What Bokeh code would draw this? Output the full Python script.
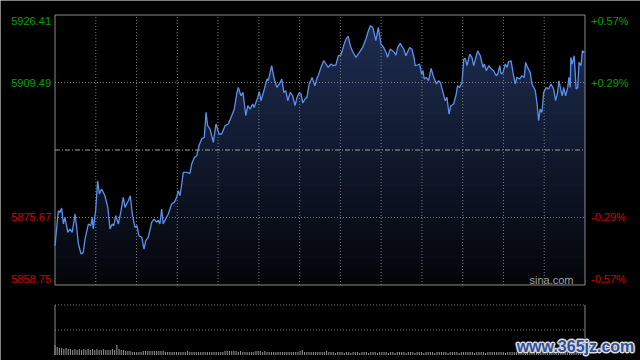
import numpy as np
from bokeh.plotting import figure
from bokeh.models import Range1d, ColumnDataSource
from bokeh.core.properties import value
from bokeh.embed import file_html
from bokeh.resources import INLINE

# ---- data (intraday index, minutes after open) ----
minutes = [0, 1.5, 2.3, 3.0, 3.8, 4.5, 5.8, 6.8, 7.8, 9.1, 9.8, 10.6, 11.8, 12.8, 13.6,
           15.1, 16.2, 16.9, 17.3, 18.4, 19.3, 20.1, 21.1, 22.6, 23.9, 24.9, 25.9, 26.6,
           27.5, 28.7, 29.9, 30.9, 31.7, 33.2, 34.1, 35.0, 36.2, 37.1, 38.0, 39.3, 40.3,
           41.1, 42.2, 43.8, 44.8, 46.1, 46.8, 47.5, 48.3, 49.0, 50.1, 51.3, 52.8, 54.0,
           55.1, 55.8, 56.6, 57.4, 58.1, 59.6, 61.1, 61.9, 63.1, 64.2, 65.2, 66.4, 67.6,
           68.4, 69.1, 70.2, 71.7, 72.9, 74.3, 75.5, 77.0, 78.5, 79.7, 81.2, 82.4, 83.0,
           84.2, 85.1, 86.4, 87.3, 88.4, 89.5, 90.2, 91.8, 92.5, 93.3, 94.8, 96.0, 96.6,
           98.1, 99.3, 100.5, 101.6, 102.7, 103.6, 104.5, 105.4, 106.5, 107.6, 108.7,
           109.6, 110.6, 111.4, 112.2, 113.2, 114.1, 115.1, 116.4, 117.7, 118.6, 119.2,
           120.4, 121.7, 122.7, 123.7, 125.0, 125.9, 127.2, 128.3, 129.5, 130.7, 131.8,
           132.8, 133.7, 134.8, 136.3, 137.8, 139.3, 140.8, 141.9, 142.8, 143.9, 145.3,
           146.4, 147.6, 148.8, 149.9, 150.6, 151.8, 153.4, 154.4, 155.2, 156.3, 157.9,
           158.9, 160.6, 161.6, 162.7, 163.1, 164.2, 165.1, 166.0, 166.6, 167.2, 168.1,
           169.2, 170.3, 171.5, 172.7, 173.7, 174.5, 175.7, 176.7, 177.5, 178.4, 179.3,
           180.5, 181.7, 182.3, 183.2, 184.3, 185.1, 185.8, 186.6, 187.8, 188.8, 189.6,
           191.4, 192.6, 193.8, 194.4, 195.3, 196.4, 197.4, 198.6, 199.8, 200.5, 201.4,
           202.0, 202.9, 203.9, 204.7, 205.4, 206.5, 207.4, 208.4, 209.2, 210.4, 211.5,
           212.5, 213.1, 214.0, 215.2, 216.0, 217.5, 218.3, 219.0, 219.7, 220.5, 221.3,
           222.5, 223.5, 224.6, 225.8, 226.7, 227.6, 228.2, 229.1, 229.7, 230.3, 231.2,
           232.2, 232.7, 233.3, 233.6, 234.2, 235.1, 236.0, 236.7, 237.3, 238.2, 238.8,
           239.7]

prices = [5868.60, 5877.37, 5876.94, 5878.04, 5874.03, 5875.69, 5871.93, 5872.78, 5871.93,
          5876.54, 5873.18, 5869.02, 5866.52, 5866.92, 5870.27, 5874.03, 5873.61, 5875.69,
          5872.78, 5877.37, 5884.88, 5881.55, 5882.80, 5881.12, 5878.19, 5872.78, 5874.03,
          5873.61, 5876.11, 5874.03, 5877.37, 5880.70, 5878.19, 5879.87, 5881.12, 5876.54,
          5873.18, 5873.61, 5871.10, 5870.68, 5867.77, 5869.85, 5870.68, 5874.43, 5875.29,
          5874.43, 5875.04, 5874.03, 5877.79, 5874.03, 5875.29, 5876.54, 5879.04, 5879.45,
          5880.70, 5882.38, 5881.12, 5884.06, 5886.96, 5886.96, 5886.71, 5889.07, 5890.72,
          5891.15, 5893.65, 5895.33, 5895.73, 5902.00, 5898.67, 5897.84, 5894.48, 5899.09,
          5896.59, 5896.59, 5898.67, 5899.09, 5900.75, 5902.85, 5907.01, 5908.26, 5906.18,
          5907.01, 5901.17, 5903.68, 5902.85, 5904.10, 5903.25, 5905.76, 5907.19, 5904.93,
          5907.86, 5910.37, 5909.94, 5913.70, 5910.37, 5908.26, 5909.12, 5910.37, 5907.01,
          5907.44, 5904.93, 5907.01, 5906.18, 5903.68, 5905.76, 5907.01, 5906.61, 5904.35,
          5905.36, 5905.76, 5909.12, 5910.77, 5908.69, 5910.52, 5911.20, 5913.28, 5914.95,
          5914.13, 5913.28, 5914.13, 5913.70, 5913.88, 5916.21, 5916.38, 5918.71, 5920.39,
          5921.04, 5918.71, 5917.21, 5915.78, 5917.03, 5918.29, 5920.39, 5922.47, 5923.73,
          5923.30, 5919.97, 5923.30, 5919.14, 5918.29, 5917.03, 5915.78, 5917.89, 5917.21,
          5916.38, 5918.29, 5919.29, 5917.89, 5916.21, 5918.29, 5917.89, 5915.38, 5913.70,
          5913.88, 5914.13, 5911.62, 5912.45, 5910.37, 5910.77, 5909.94, 5913.02, 5910.77,
          5909.12, 5909.94, 5909.52, 5907.01, 5904.93, 5905.76, 5901.60, 5903.68, 5904.10,
          5906.61, 5908.69, 5908.26, 5909.52, 5915.38, 5915.53, 5913.70, 5916.63, 5915.78,
          5913.70, 5917.46, 5916.21, 5913.28, 5914.13, 5912.45, 5913.70, 5913.02, 5912.45,
          5911.20, 5911.62, 5913.70, 5911.62, 5912.02, 5914.13, 5913.28, 5914.70, 5914.95,
          5912.02, 5909.12, 5910.77, 5910.37, 5911.20, 5910.77, 5914.53, 5913.28, 5912.02,
          5909.12, 5907.44, 5904.10, 5899.92, 5902.85, 5902.00, 5907.01, 5908.26, 5907.86,
          5909.12, 5907.86, 5904.93, 5907.01, 5909.94, 5907.44, 5906.18, 5908.26, 5906.18,
          5908.26, 5910.77, 5908.26, 5915.78, 5914.13, 5916.21, 5907.86, 5908.26, 5914.53,
          5913.70, 5917.46, 5917.03]

vol_minutes = list(range(240))
volumes = [10, 8, 7, 7, 6, 7, 6, 6, 5, 6,
           5, 6, 5, 6, 5, 6, 5, 6, 5, 6,
           5, 5, 6, 5, 5, 5, 6, 5, 10, 6,
           5, 5, 4, 4, 4, 3, 3, 3, 3, 3,
           4, 4, 4, 4, 4, 4, 4, 4, 4, 4,
           3, 3, 3, 3, 3, 3, 3, 3, 3, 3,
           4, 3, 3, 3, 3, 3, 3, 3, 3, 3,
           3, 3, 3, 3, 3, 3, 3, 4, 4, 4,
           4, 4, 4, 3, 4, 3, 3, 3, 3, 3,
           3, 4, 4, 4, 3, 4, 3, 3, 3, 3,
           3, 3, 3, 3, 3, 3, 3, 3, 3, 3,
           3, 4, 5, 3, 3, 3, 3, 3, 3, 3,
           3, 3, 3, 4, 3, 3, 3, 2, 3, 3,
           3, 2, 3, 3, 2, 3, 3, 3, 2, 3,
           3, 3, 2, 3, 3, 3, 2, 3, 3, 3,
           3, 2, 3, 3, 2, 3, 3, 3, 3, 2,
           3, 3, 3, 2, 3, 3, 3, 2, 3, 3,
           3, 3, 2, 3, 3, 3, 3, 3, 2, 3,
           3, 3, 3, 2, 3, 3, 3, 3, 3, 3,
           2, 3, 3, 3, 3, 2, 3, 3, 3, 3,
           3, 3, 3, 3, 2, 3, 3, 3, 3, 3,
           3, 3, 3, 3, 3, 3, 3, 3, 3, 3,
           3, 3, 3, 3, 3, 3, 3, 3, 3, 3,
           3, 3, 3, 3, 3, 3, 3, 3, 3, 4]

prev_close = 5892.58
price_min, price_max = 5858.75, 5926.41
price_ticks = [5858.75, 5875.67, 5909.49, 5926.41]
price_labels = ["5858.75", "5875.67", "5909.49", "5926.41"]
pct_labels = ["-0.57%", "-0.29%", "+0.29%", "+0.57%"]
label_colors = ["#d10000", "#d10000", "#00a300", "#00a300"]
session_len = 240
n_cells = 13
vol_max = 50

FONT = "Liberation Sans"
GRID = "#7c7c7c"
BORDER = "#8a8a8a"

# ---------------- pixel layout of the canvas ----------------
W, H = 640, 360
PX_L, PX_R = 54.5, 584.5        # plot box, x
PX_T, PX_B = 14.5, 284.5        # price panel, y
VX_T, VX_B = 304.5, 354.5       # volume panel, y

ppx = (PX_R - PX_L) / session_len          # px per minute
upy = (price_max - price_min) / (PX_B - PX_T)  # price per px
vpy = vol_max / (VX_B - VX_T)              # volume per px

x_range = Range1d(-PX_L / ppx, session_len + (W - PX_R) / ppx)
y_range = Range1d(price_min - (H - PX_B) * upy, price_max + PX_T * upy)
vol_range = Range1d(-(H - VX_B) * vpy, vol_max + VX_T * vpy)

p = figure(width=W, height=H, output_backend="svg", toolbar_location=None,
           x_axis_location=None, y_axis_location=None, title=None,
           x_range=x_range, y_range=y_range,
           min_border=0, min_border_left=0, min_border_right=0,
           min_border_top=0, min_border_bottom=0)
p.extra_y_ranges = {"vol": vol_range}
p.background_fill_color = "#000000"
p.border_fill_color = "#000000"
p.outline_line_color = None
p.xgrid.visible = False
p.ygrid.visible = False

# gradient area under the line (top band first, each lower band drawn over it)
pr = np.array(prices)
n_bands = 30
edges = np.linspace(price_min, price_max, n_bands + 1)
top_rgb = np.array([30, 46, 84])
bot_rgb = np.array([4, 5, 9])
for i in range(n_bands - 1, -1, -1):
    frac = (i + 0.5) / n_bands
    c = bot_rgb + (top_rgb - bot_rgb) * frac
    col = "#%02x%02x%02x" % tuple(int(round(v)) for v in c)
    p.varea(x=minutes, y1=np.full(len(pr), price_min),
            y2=np.minimum(pr, edges[i + 1]), fill_color=col, fill_alpha=1.0)

# grid lines of the price panel
gx = [session_len * k / n_cells for k in range(1, n_cells)]
p.segment(x0=gx, y0=[price_min] * len(gx), x1=gx, y1=[price_max] * len(gx),
          line_color=GRID, line_width=1, line_dash="1 2")
gy = price_ticks[1:3]
p.segment(x0=[0] * len(gy), y0=gy, x1=[session_len] * len(gy), y1=gy,
          line_color=GRID, line_width=1, line_dash="1 2")
p.segment(x0=[0], y0=[prev_close], x1=[session_len], y1=[prev_close],
          line_color="#a0a0a0", line_width=1, line_dash="5 2 1 2")

# price panel border
p.line(x=[0, session_len, session_len, 0, 0],
       y=[price_min, price_min, price_max, price_max, price_min],
       line_color=BORDER, line_width=1)

# price line
p.line(minutes, prices, line_color="#5d90ec", line_width=1.3)

# tick labels
dy_top = 5.5 * upy
dy_bot = 6.5 * upy
lab_y = [t + (dy_bot if i == 0 else (-dy_top if i == len(price_ticks) - 1 else 0))
         for i, t in enumerate(price_ticks)]
left_src = ColumnDataSource(dict(x=[-4 / ppx] * 4, y=lab_y, text=price_labels, c=label_colors))
right_src = ColumnDataSource(dict(x=[session_len + 6 / ppx] * 4, y=lab_y, text=pct_labels, c=label_colors))
p.text(x="x", y="y", text="text", text_color="c", source=left_src,
       text_align="right", text_baseline="middle",
       text_font=value(FONT), text_font_size="11px")
p.text(x="x", y="y", text="text", text_color="c", source=right_src,
       text_align="left", text_baseline="middle",
       text_font=value(FONT), text_font_size="11px")

p.text(x=[session_len - 11.5 / ppx], y=[price_min + 5.5 * upy], text=["sina.com"],
       text_align="right", text_baseline="middle", text_color="#a0a0a0",
       text_font=value(FONT), text_font_size="11px")

# ---------------- volume panel ----------------
p.vbar(x=vol_minutes, top=volumes, bottom=0, width=0.5, fill_color="#8c8c8c",
       line_color=None, y_range_name="vol")
p.segment(x0=[0, 0], y0=[vol_max, vol_max / 2], x1=[session_len, session_len],
          y1=[vol_max, vol_max / 2], line_color=GRID, line_width=1, line_dash="1 2",
          y_range_name="vol")
p.segment(x0=[0, session_len], y0=[0, 0], x1=[0, session_len], y1=[vol_max, vol_max],
          line_color=BORDER, line_width=1, y_range_name="vol")

# watermark
wm = "www.365jz.com"
wm_x = session_len - 9.5 / ppx
wm_y = (VX_B - 346) * vpy
for dx, dy, c in [(-2, 0, "#6a6a6a"), (2, 0, "#6a6a6a"), (0, -2, "#6a6a6a"), (0, 2, "#6a6a6a"),
                  (-1, -1, "#d8d8d8"), (1, 1, "#d8d8d8"), (-1, 1, "#d8d8d8"), (1, -1, "#d8d8d8"),
                  (-1, 0, "#e0e0e0"), (1, 0, "#e0e0e0"), (0, -1, "#e0e0e0"), (0, 1, "#e0e0e0")]:
    p.text(x=[wm_x], y=[wm_y], text=[wm], x_offset=dx, y_offset=dy,
           text_align="center", text_baseline="middle", text_color=c,
           text_font=value(FONT), text_font_size="16px", text_font_style="bold",
           y_range_name="vol")
p.text(x=[wm_x], y=[wm_y], text=[wm], text_align="center", text_baseline="middle",
       text_color="#2c4f9c", text_font=value(FONT), text_font_size="16px",
       text_font_style="bold", y_range_name="vol")

html = file_html(p, INLINE)
html = html.replace("<body>", '<body style="background:#000000;">', 1)
open("out.html", "w").write(html)
